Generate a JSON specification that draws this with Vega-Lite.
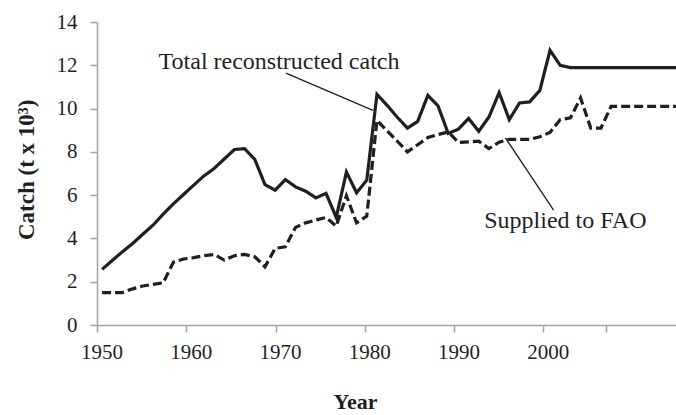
{
  "$schema": "https://vega.github.io/schema/vega-lite/v6.json",
  "width": 579,
  "height": 303,
  "autosize": {"type": "none"},
  "padding": {"left": 97, "top": 22, "right": 0, "bottom": 90},
  "background": "white",
  "config": {"view": {"stroke": null}, "font": "Liberation Serif"},
  "datasets": {
    "catch": [
      {"year": 1950, "total": 2.57, "fao": 1.5},
      {"year": 1951, "total": 2.98, "fao": 1.5},
      {"year": 1952, "total": 3.39, "fao": 1.5},
      {"year": 1953, "total": 3.77, "fao": 1.67},
      {"year": 1954, "total": 4.19, "fao": 1.8},
      {"year": 1955, "total": 4.61, "fao": 1.88},
      {"year": 1956, "total": 5.12, "fao": 1.95},
      {"year": 1957, "total": 5.6, "fao": 2.9},
      {"year": 1958, "total": 6.03, "fao": 3.05},
      {"year": 1959, "total": 6.46, "fao": 3.11},
      {"year": 1960, "total": 6.89, "fao": 3.2},
      {"year": 1961, "total": 7.23, "fao": 3.26},
      {"year": 1962, "total": 7.67, "fao": 3.0},
      {"year": 1963, "total": 8.11, "fao": 3.2},
      {"year": 1964, "total": 8.15, "fao": 3.26},
      {"year": 1965, "total": 7.65, "fao": 3.15},
      {"year": 1966, "total": 6.49, "fao": 2.69},
      {"year": 1967, "total": 6.23, "fao": 3.54},
      {"year": 1968, "total": 6.72, "fao": 3.61},
      {"year": 1969, "total": 6.38, "fao": 4.51},
      {"year": 1970, "total": 6.18, "fao": 4.72},
      {"year": 1971, "total": 5.87, "fao": 4.85},
      {"year": 1972, "total": 6.08, "fao": 4.97},
      {"year": 1973, "total": 4.97, "fao": 4.57},
      {"year": 1974, "total": 7.07, "fao": 5.97},
      {"year": 1975, "total": 6.11, "fao": 4.72},
      {"year": 1976, "total": 6.69, "fao": 5.03},
      {"year": 1977, "total": 10.66, "fao": 9.46},
      {"year": 1978, "total": 10.15, "fao": 8.97},
      {"year": 1979, "total": 9.6, "fao": 8.49},
      {"year": 1980, "total": 9.1, "fao": 8.0},
      {"year": 1981, "total": 9.41, "fao": 8.33},
      {"year": 1982, "total": 10.61, "fao": 8.66},
      {"year": 1983, "total": 10.12, "fao": 8.8},
      {"year": 1984, "total": 8.85, "fao": 8.92},
      {"year": 1985, "total": 9.05, "fao": 8.43},
      {"year": 1986, "total": 9.54, "fao": 8.46},
      {"year": 1987, "total": 8.95, "fao": 8.49},
      {"year": 1988, "total": 9.61, "fao": 8.15},
      {"year": 1989, "total": 10.74, "fao": 8.45},
      {"year": 1990, "total": 9.49, "fao": 8.58},
      {"year": 1991, "total": 10.26, "fao": 8.58},
      {"year": 1992, "total": 10.31, "fao": 8.58},
      {"year": 1993, "total": 10.84, "fao": 8.7},
      {"year": 1994, "total": 12.69, "fao": 8.9},
      {"year": 1995, "total": 12.0, "fao": 9.49},
      {"year": 1996, "total": 11.89, "fao": 9.57},
      {"year": 1997, "total": 11.89, "fao": 10.49},
      {"year": 1998, "total": 11.89, "fao": 9.1},
      {"year": 1999, "total": 11.89, "fao": 9.1},
      {"year": 2000, "total": 11.89, "fao": 10.1},
      {"year": 2001, "total": 11.89, "fao": 10.1},
      {"year": 2002, "total": 11.89, "fao": 10.1},
      {"year": 2003, "total": 11.89, "fao": 10.1},
      {"year": 2004, "total": 11.89, "fao": 10.1},
      {"year": 2005, "total": 11.89, "fao": 10.1},
      {"year": 2006, "total": 11.89, "fao": 10.1},
      {"year": 2007, "total": 11.89, "fao": 10.1}
    ],
    "notes": [
      {"label": "Total reconstructed catch", "textYear": 1955.55, "textCatch": 11.81, "fromYear": 1968.06, "fromCatch": 11.64, "toYear": 1976.61, "toCatch": 9.92},
      {"label": "Supplied to FAO", "textYear": 1987.54, "textCatch": 4.46, "fromYear": 1989.61, "fromCatch": 8.65, "toYear": 1994.35, "toCatch": 5.31}
    ]
  },
  "layer": [
    {
      "layer": [
        {
          "data": {"name": "catch"},
          "mark": {"type": "line", "clip": true, "strokeWidth": 3.2, "color": "#1f1f1f", "strokeDash": [9, 4]},
          "encoding": {
            "x": {
              "field": "year", "type": "quantitative",
              "scale": {"domain": [1949.5, 2006.375], "nice": false, "zero": false},
              "axis": null
            },
            "y": {
              "field": "fao", "type": "quantitative",
              "scale": {"domain": [0, 14], "nice": false},
              "axis": {
                "values": [0, 2, 4, 6, 8, 10, 12, 14],
                "grid": false,
                "domainColor": "#a3a3a3", "domainWidth": 1.5,
                "tickColor": "#a3a3a3", "tickWidth": 1.5, "tickSize": 7,
                "labelFont": "Liberation Serif", "labelFontSize": 21, "labelColor": "#1f1f1f", "labelPadding": 13,
                "title": "Catch (t x 10³)",
                "titleFont": "Liberation Serif", "titleFontSize": 23, "titleFontWeight": "bold", "titleColor": "#1f1f1f",
                "titleX": -63.7, "titleY": 147.3, "titleBaseline": "alphabetic", "titleAngle": -90
              }
            }
          }
        },
        {
          "data": {"name": "catch"},
          "mark": {"type": "line", "clip": true, "strokeWidth": 3.2, "color": "#1f1f1f"},
          "encoding": {
            "x": {"field": "year", "type": "quantitative", "axis": null},
            "y": {"field": "total", "type": "quantitative"}
          }
        },
        {
          "data": {"name": "notes"},
          "mark": {"type": "rule", "strokeWidth": 1.3, "color": "#1f1f1f"},
          "encoding": {
            "x": {"field": "fromYear", "type": "quantitative", "axis": null},
            "y": {"field": "fromCatch", "type": "quantitative"},
            "x2": {"field": "toYear"},
            "y2": {"field": "toCatch"}
          }
        },
        {
          "data": {"name": "notes"},
          "mark": {"type": "text", "align": "left", "baseline": "alphabetic", "font": "Liberation Serif", "fontSize": 24, "color": "#1f1f1f"},
          "encoding": {
            "x": {"field": "textYear", "type": "quantitative", "axis": null},
            "y": {"field": "textCatch", "type": "quantitative"},
            "text": {"field": "label"}
          }
        }
      ]
    },
    {
      "data": {"name": "catch"},
      "mark": {"type": "point", "opacity": 0},
      "encoding": {
        "x": {
          "field": "year", "type": "quantitative",
          "scale": {"domain": [1950, 2014.87], "nice": false, "zero": false},
          "axis": {
            "orient": "bottom",
            "values": [1950, 1960, 1970, 1980, 1990, 2000, 2007],
            "labelExpr": "datum.value > 2001 ? '' : datum.label",
            "format": "d",
            "grid": false,
            "labelOffset": 4.5,
            "labelFlush": false,
            "domainColor": "#a3a3a3", "domainWidth": 1.5,
            "tickColor": "#a3a3a3", "tickWidth": 1.5, "tickSize": 7,
            "labelFont": "Liberation Serif", "labelFontSize": 21, "labelColor": "#1f1f1f", "labelPadding": 9,
            "title": "Year",
            "titleFont": "Liberation Serif", "titleFontSize": 22, "titleFontWeight": "bold", "titleColor": "#1f1f1f",
            "titleX": 258, "titleY": 83, "titleBaseline": "alphabetic"
          }
        }
      }
    }
  ],
  "resolve": {"scale": {"x": "independent"}, "axis": {"x": "independent"}}
}
